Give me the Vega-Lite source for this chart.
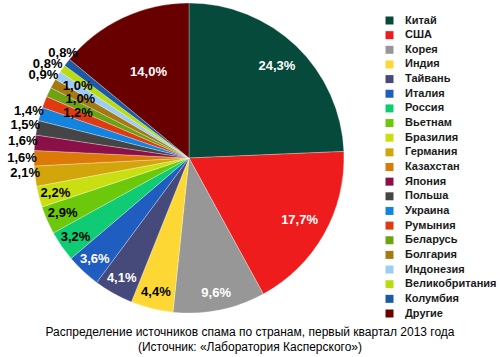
{
  "$schema": "https://vega.github.io/schema/vega-lite/v6.json",
  "width": 378,
  "height": 316,
  "autosize": "none",
  "padding": {"left": 0, "top": 0, "right": 122, "bottom": 41},
  "config": {
    "view": {"stroke": null},
    "locale": {"number": {"decimal": ",", "thousands": " ", "grouping": [3], "currency": ["", ""]}},
    "text": {"font": "Liberation Sans", "fontWeight": "bold", "fontSize": 13}
  },
  "title": {
    "text": ["Распределение источников спама по странам, первый квартал 2013 года", "(Источник: «Лаборатория Касперского»)"],
    "orient": "bottom",
    "anchor": "middle",
    "baseline": "top",
    "dx": 61,
    "offset": -16,
    "font": "Liberation Sans",
    "fontSize": 12,
    "fontWeight": "normal",
    "lineHeight": 15,
    "color": "#000000"
  },
  "data": {
    "values": [
      {"n": 1, "country": "Китай", "share": 0.243},
      {"n": 2, "country": "США", "share": 0.177},
      {"n": 3, "country": "Корея", "share": 0.096},
      {"n": 4, "country": "Индия", "share": 0.044},
      {"n": 5, "country": "Тайвань", "share": 0.041},
      {"n": 6, "country": "Италия", "share": 0.036},
      {"n": 7, "country": "Россия", "share": 0.032},
      {"n": 8, "country": "Вьетнам", "share": 0.029},
      {"n": 9, "country": "Бразилия", "share": 0.022},
      {"n": 10, "country": "Германия", "share": 0.021},
      {"n": 11, "country": "Казахстан", "share": 0.016},
      {"n": 12, "country": "Япония", "share": 0.016},
      {"n": 13, "country": "Польша", "share": 0.015},
      {"n": 14, "country": "Украина", "share": 0.014},
      {"n": 15, "country": "Румыния", "share": 0.012},
      {"n": 16, "country": "Беларусь", "share": 0.010},
      {"n": 17, "country": "Болгария", "share": 0.010},
      {"n": 18, "country": "Индонезия", "share": 0.009},
      {"n": 19, "country": "Великобритания", "share": 0.008},
      {"n": 20, "country": "Колумбия", "share": 0.008},
      {"n": 21, "country": "Другие", "share": 0.140}
    ]
  },
  "encoding": {
    "theta": {"field": "share", "type": "quantitative", "stack": true},
    "order": {"field": "n", "type": "quantitative", "sort": "ascending"}
  },
  "layer": [
    {
      "mark": {"type": "arc", "outerRadius": 155, "stroke": "#ffffff", "strokeWidth": 0.4, "strokeOpacity": 0.7},
      "encoding": {
        "color": {
          "field": "country",
          "type": "nominal",
          "sort": null,
          "scale": {
            "domain": ["Китай", "США", "Корея", "Индия", "Тайвань", "Италия", "Россия", "Вьетнам", "Бразилия", "Германия", "Казахстан", "Япония", "Польша", "Украина", "Румыния", "Беларусь", "Болгария", "Индонезия", "Великобритания", "Колумбия", "Другие"],
            "range": ["#064a3c", "#ee1c1c", "#979797", "#fdd835", "#464a7a", "#1f5dc0", "#0fcb74", "#6cc80a", "#cadf12", "#d2a60a", "#dc7a08", "#8c1048", "#454545", "#1283df", "#e03a12", "#6ea212", "#a67a12", "#9dccf4", "#b8dc10", "#1b5ba6", "#680000"]
          },
          "legend": {
            "orient": "none",
            "legendX": 384,
            "legendY": 15,
            "title": null,
            "padding": 0,
            "symbolType": "square",
            "symbolSize": 64,
            "symbolStrokeWidth": 0,
            "labelFont": "Liberation Sans",
            "labelFontWeight": "bold",
            "labelFontSize": 11,
            "labelColor": "#1a1a1a",
            "labelOffset": 10,
            "rowPadding": 2.65,
            "labelLimit": 200
          }
        }
      }
    },
    {
      "mark": {"type": "text", "radius": 127, "fill": "#ffffff"},
      "encoding": {
        "text": {"field": "share", "type": "quantitative", "format": ".1%", "condition": {"test": "indexof(['Китай','США'], datum.country) < 0", "value": ""}}
      }
    },
    {
      "mark": {"type": "text", "radius": 95, "fill": "#ffffff"},
      "encoding": {
        "text": {"field": "share", "type": "quantitative", "format": ".1%", "condition": {"test": "datum.country !== 'Другие'", "value": ""}}
      }
    },
    {
      "mark": {"type": "text", "radius": 138},
      "encoding": {
        "text": {"field": "share", "type": "quantitative", "format": ".1%", "condition": {"test": "indexof(['Корея','Индия','Тайвань','Италия','Россия','Вьетнам','Бразилия'], datum.country) < 0", "value": ""}},
        "color": {"condition": {"test": "indexof(['Корея','Тайвань','Италия'], datum.country) >= 0", "value": "#ffffff"}, "value": "#000000"}
      }
    },
    {
      "mark": {"type": "text", "radius": 119, "dy": -2, "fill": "#000000"},
      "encoding": {
        "text": {"field": "share", "type": "quantitative", "format": ".1%", "condition": {"test": "datum.country !== 'Румыния'", "value": ""}}
      }
    },
    {
      "mark": {"type": "text", "radius": 120, "dy": -8, "fill": "#000000"},
      "encoding": {
        "text": {"field": "share", "type": "quantitative", "format": ".1%", "condition": {"test": "datum.country !== 'Беларусь'", "value": ""}}
      }
    },
    {
      "mark": {"type": "text", "radius": 127, "dy": -11, "fill": "#000000"},
      "encoding": {
        "text": {"field": "share", "type": "quantitative", "format": ".1%", "condition": {"test": "datum.country !== 'Болгария'", "value": ""}}
      }
    },
    {
      "mark": {"type": "text", "radius": 165, "dy": -4, "fill": "#000000"},
      "encoding": {
        "text": {"field": "share", "type": "quantitative", "format": ".1%", "condition": {"test": "datum.country !== 'Германия'", "value": ""}}
      }
    },
    {
      "mark": {"type": "text", "radius": 167, "fill": "#000000"},
      "encoding": {
        "text": {"field": "share", "type": "quantitative", "format": ".1%", "condition": {"test": "indexof(['Казахстан','Япония','Польша','Украина'], datum.country) < 0", "value": ""}}
      }
    },
    {
      "mark": {"type": "text", "radius": 172, "dy": 9, "fill": "#000000"},
      "encoding": {
        "text": {"field": "share", "type": "quantitative", "format": ".1%", "condition": {"test": "datum.country !== 'Индонезия'", "value": ""}}
      }
    },
    {
      "mark": {"type": "text", "radius": 173, "dy": 6, "fill": "#000000"},
      "encoding": {
        "text": {"field": "share", "type": "quantitative", "format": ".1%", "condition": {"test": "datum.country !== 'Великобритания'", "value": ""}}
      }
    },
    {
      "mark": {"type": "text", "radius": 160, "dy": -6, "fill": "#000000"},
      "encoding": {
        "text": {"field": "share", "type": "quantitative", "format": ".1%", "condition": {"test": "datum.country !== 'Колумбия'", "value": ""}}
      }
    }
  ]
}
